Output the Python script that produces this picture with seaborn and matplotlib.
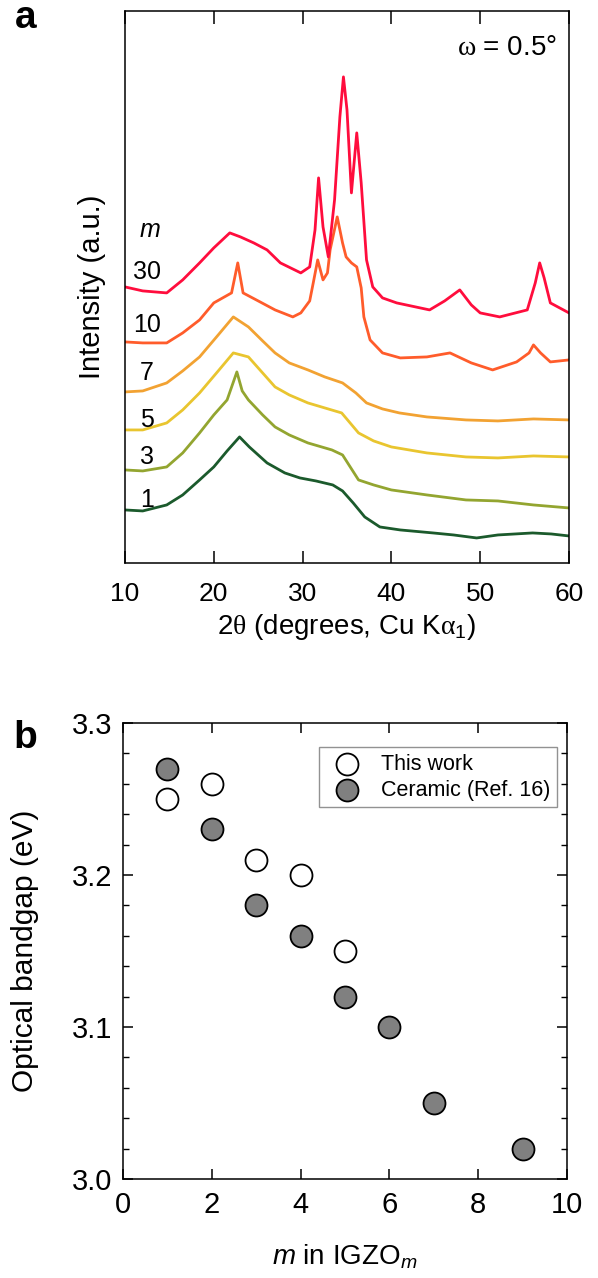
import matplotlib
matplotlib.use("Agg")
import matplotlib.pyplot as plt
from matplotlib.ticker import MultipleLocator, FormatStrFormatter
import seaborn as sns

# (a) grazing-incidence XRD, intensity in a.u. (curves already stacked)
m1_x = [10, 12, 14.7, 16.5, 18.4, 20, 21.5, 22.9, 24, 26, 28, 29.7, 31.5, 33.4, 34.5, 35.7, 37, 38.7, 41, 44.7, 47, 49.6, 52, 55.9, 58, 60]
m1_y = [53, 52, 58, 68, 83, 96, 112, 126, 116, 100, 90, 85, 82, 78, 72, 60, 46, 36, 33, 30, 28, 25, 28, 30, 29, 27]

m3_x = [10, 12, 14.7, 16.5, 18.4, 20, 21.5, 22.6, 23.2, 23.9, 25.5, 26.9, 28.5, 30.6, 33.3, 34.5, 36.3, 38, 40, 44, 48.4, 52, 56, 60]
m3_y = [93, 92, 96, 110, 130, 148, 163, 191, 172, 163, 148, 136, 128, 120, 113, 108, 83, 78, 73, 68, 63, 62, 58, 55]

m5_x = [10, 12, 14.7, 16.5, 18.4, 20.5, 22.2, 23.9, 25.5, 26.9, 28.5, 30.6, 32.5, 34.4, 36.3, 38, 40, 44, 48.4, 52, 56, 60]
m5_y = [133, 133, 140, 153, 170, 192, 210, 206, 190, 176, 168, 160, 155, 150, 130, 122, 116, 110, 106, 105, 107, 106]

m7_x = [10, 12, 14.7, 16.5, 18.4, 20.5, 22.2, 23.9, 25.5, 26.9, 28.5, 30.6, 32.5, 34.5, 36, 37.2, 39, 40.9, 44, 48.4, 52, 56, 60]
m7_y = [171, 172, 180, 192, 206, 228, 246, 236, 222, 210, 200, 193, 186, 180, 170, 160, 154, 150, 146, 143, 142, 144, 143]

m10_x = [10, 12, 14.7, 16.5, 18.4, 20, 22, 22.7, 23.3, 25, 26.9, 28.9, 29.8, 30.8, 31.2, 31.7, 32.3, 32.8, 33.1, 33.9, 34.5, 34.9, 35.5, 36.1, 36.6, 36.9, 37.6, 39, 41, 44, 46.6, 49, 51.4, 54.1, 55.5, 56, 56.8, 57.9, 60]
m10_y = [221, 220, 220, 230, 243, 260, 270, 300, 270, 262, 253, 246, 250, 262, 280, 303, 283, 290, 313, 346, 320, 306, 300, 296, 275, 246, 223, 210, 205, 206, 210, 200, 193, 201, 210, 218, 210, 201, 203]

m30_x = [10, 12, 14.7, 16.5, 18.4, 20, 21.8, 23, 24.5, 26, 27.5, 29.8, 30.8, 31.4, 31.8, 32.3, 32.9, 33.6, 34.2, 34.6, 35, 35.5, 36.1, 36.6, 37.2, 37.9, 39, 40.6, 44.3, 46, 47.7, 49, 50, 52.2, 55.3, 56.2, 56.7, 57.2, 57.9, 60]
m30_y = [276, 272, 270, 283, 300, 315, 330, 326, 320, 313, 300, 290, 296, 333, 385, 336, 306, 363, 446, 486, 453, 370, 430, 380, 303, 276, 265, 260, 253, 262, 273, 258, 250, 246, 253, 280, 300, 285, 260, 250]

curve_labels = ["1", "3", "5", "7", "10", "30"]
label_y = [63, 106, 143, 190, 238, 291]
colors = ["#1b5a2c", "#93a530", "#e9c52f", "#f2a232", "#ff5c2b", "#ff0d3d"]

# (b) optical bandgap
m_this = [1, 2, 3, 4, 5]
eg_this = [3.25, 3.26, 3.21, 3.20, 3.15]
m_ceramic = [1, 2, 3, 4, 5, 6, 7, 9]
eg_ceramic = [3.27, 3.23, 3.18, 3.16, 3.12, 3.10, 3.05, 3.02]

sns.set_style("ticks")
plt.rcParams["font.family"] = ["Liberation Sans", "DejaVu Sans"]
plt.rcParams["mathtext.fontset"] = "custom"
plt.rcParams["mathtext.rm"] = "Liberation Sans"
plt.rcParams["mathtext.it"] = "Liberation Sans:italic"
plt.rcParams["mathtext.cal"] = "Liberation Serif"
plt.rcParams["axes.linewidth"] = 1.1
for k in ["text.color", "axes.labelcolor", "xtick.color", "ytick.color", "axes.edgecolor"]:
    plt.rcParams[k] = "black"

fig = plt.figure(figsize=(5.98, 12.78), dpi=100)

# ---- panel a ----
ax1 = fig.add_axes([0.209, 0.5595, 0.7425, 0.432])
xs = [m1_x, m3_x, m5_x, m7_x, m10_x, m30_x]
ys = [m1_y, m3_y, m5_y, m7_y, m10_y, m30_y]
for x, y, c in zip(xs, ys, colors):
    sns.lineplot(x=x, y=y, ax=ax1, color=c, lw=2.0, sort=False, estimator=None)

for lab, yy in zip(curve_labels, label_y):
    ax1.text(12.5, yy, lab, fontsize=18, ha="center", va="center")
ax1.text(12.8, 333, "$m$", fontsize=18, ha="center", va="center")
ax1.text(58.6, 515, r"$\mathcal{\omega}$ = 0.5°", fontsize=20, ha="right", va="center")

ax1.set_xlim(10, 60)
ax1.set_ylim(0, 552)
ax1.set_yticks([])
ax1.xaxis.set_major_locator(MultipleLocator(10))
ax1.tick_params(axis="x", direction="in", top=True, length=9, width=1.1, labelsize=19, pad=14)
ax1.set_xlabel(r"2$\mathcal{\theta}$ (degrees, Cu K$\mathcal{\alpha}_1$)", fontsize=20)
ax1.xaxis.set_label_coords(0.5, -0.088)
ax1.set_ylabel("Intensity (a.u.)", fontsize=21)
ax1.yaxis.set_label_coords(-0.043, 0.5)

# ---- panel b ----
ax2 = fig.add_axes([0.2057, 0.0775, 0.7425, 0.3568])
sns.scatterplot(x=m_this, y=eg_this, ax=ax2, s=250, color="white", edgecolor="black",
                linewidth=1.3, label="This work", zorder=3)
sns.scatterplot(x=m_ceramic, y=eg_ceramic, ax=ax2, s=250, color="#808080", edgecolor="black",
                linewidth=1.3, label="Ceramic (Ref. 16)", zorder=3)
ax2.set_xlim(0, 10)
ax2.set_ylim(3.0, 3.3)
ax2.xaxis.set_major_locator(MultipleLocator(2))
ax2.yaxis.set_major_locator(MultipleLocator(0.1))
ax2.yaxis.set_minor_locator(MultipleLocator(0.02))
ax2.yaxis.set_major_formatter(FormatStrFormatter("%.1f"))
ax2.tick_params(which="major", direction="in", top=True, right=True, length=7, width=1.1, labelsize=21)
ax2.tick_params(axis="x", pad=9)
ax2.tick_params(axis="y", pad=8)
ax2.tick_params(which="minor", direction="in", right=True, length=4, width=1.0)
ax2.set_xlabel("$m$ in IGZO$_m$", fontsize=20)
ax2.xaxis.set_label_coords(0.5, -0.14)
ax2.set_ylabel("Optical bandgap (eV)", fontsize=21.5)
ax2.yaxis.set_label_coords(-0.19, 0.5)

leg = ax2.legend(loc="upper right", fontsize=15.5, frameon=True, fancybox=False,
                 edgecolor="#777777", handletextpad=0.6, borderpad=0.3,
                 labelspacing=0.25, borderaxespad=0, bbox_to_anchor=(0.977, 0.947))
leg.get_frame().set_linewidth(1.0)

fig.text(0.025, 0.978, "a", fontsize=28, fontweight="bold")
fig.text(0.022, 0.415, "b", fontsize=28, fontweight="bold")

fig.savefig("out.png", dpi=100)
